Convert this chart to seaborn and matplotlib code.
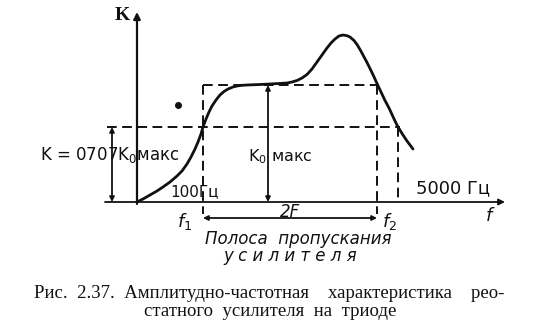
import matplotlib
matplotlib.use("Agg")
import matplotlib.pyplot as plt
import seaborn as sns
import pandas as pd

# ---- data (frequency axis in arbitrary units, gain K in arbitrary units) ----
curve_f = [0, 6, 13, 20, 26, 33, 40, 45, 50, 54, 58, 61, 64, 66, 69, 72, 75, 79, 83,
           87, 91, 96, 100, 105, 110, 123, 133, 142, 150, 155, 160, 165, 170, 175,
           180, 185, 190, 194, 198, 202, 206, 210, 213, 217, 220, 223, 226, 230,
           233, 237, 240, 244, 248, 252, 255, 258, 261, 266, 270, 273, 276]
curve_k = [0, 3, 7, 11, 15, 20, 26, 31, 38, 45, 53, 60, 68, 75, 83, 90, 96, 102, 107,
           110.5, 113, 115, 116, 116.7, 117, 117.5, 118, 118.5, 119, 120, 121.5, 124, 127.5, 133,
           140, 147, 154, 159, 163, 166, 167, 166.3, 165, 161.5, 157.5, 152.5, 147, 139.5,
           133.5, 125.2, 118.5, 110, 101.5, 94, 87.5, 81, 75, 67, 61, 57, 53]
f1 = 66          # 100 Гц
f2 = 240         # upper band edge
f_5000 = 261     # 5000 Гц
k0max = 117      # K0 макс
k_707 = 75       # 0.707 K0 макс
dot = (41, 97)

sns.set_theme(style="white")
plt.rcParams['font.family'] = ['DejaVu Sans']

fig = plt.figure(figsize=(5.35, 3.32), dpi=100)
ax = fig.add_axes([0, 0, 1, 1])
ax.set_xlim(-137, 398)
ax.set_ylim(-130, 202)
ax.axis('off')

ink = '#111111'
dash = (0, (5, 2.8))

# axes with arrows
ax.annotate('', xy=(0, 190), xytext=(0, -2),
            arrowprops=dict(arrowstyle='-|>', color=ink, lw=1.6, mutation_scale=10, shrinkA=0, shrinkB=0))
ax.annotate('', xy=(368, 0), xytext=(-32, 0),
            arrowprops=dict(arrowstyle='-|>', color=ink, lw=1.3, mutation_scale=9, shrinkA=0, shrinkB=0))

# curve
df = pd.DataFrame({'f': curve_f, 'K': curve_k})
sns.lineplot(data=df, x='f', y='K', ax=ax, color=ink, lw=2.0, sort=False, estimator=None,
             solid_joinstyle='round', solid_capstyle='round')

# dashed construction lines
ax.plot([f1, f2], [k0max, k0max], color=ink, lw=1.4, ls=dash)
ax.plot([-30, f_5000 + 2], [k_707, k_707], color=ink, lw=1.4, ls=dash)
ax.plot([f1, f1], [k0max, -12], color=ink, lw=1.4, ls=dash)
ax.plot([f2, f2], [k0max, -12], color=ink, lw=1.4, ls=dash)
ax.plot([f_5000, f_5000], [k_707, 0], color=ink, lw=1.4, ls=dash)

# dimension arrows
arr = dict(arrowstyle='<|-|>', color=ink, lw=1.3, mutation_scale=7, shrinkA=0, shrinkB=0)
ax.annotate('', xy=(-25, k_707), xytext=(-25, 0), arrowprops=arr)
ax.annotate('', xy=(131, k0max), xytext=(131, 0), arrowprops=arr)
ax.annotate('', xy=(f1, -16), xytext=(f2, -16), arrowprops=arr)

# artifact dot
ax.plot([dot[0]], [dot[1]], 'o', color=ink, ms=4)

# labels
fs = 12
ax.text(-15, 187, 'K', fontsize=14, ha='center', va='center', color=ink,
        family=['Liberation Serif'], weight='bold')
ax.text(-27, 47, 'K = 0707K$_0$макс', fontsize=fs, ha='center', va='center', color=ink)
ax.text(143, 45, 'K$_0$ макс', fontsize=11.5, ha='center', va='center', color=ink)
ax.text(58, 10, '100Гц', fontsize=11, ha='center', va='center', color=ink)
ax.text(316, 14, '5000 Гц', fontsize=13, ha='center', va='center', color=ink)
ax.text(153, -10, '2F', fontsize=fs, ha='center', va='center', color=ink, style='italic')
ax.text(48, -19, '$f_1$', fontsize=fs + 1, ha='center', va='center', color=ink)
ax.text(253, -19, '$f_2$', fontsize=fs + 1, ha='center', va='center', color=ink)
ax.text(353, -14, '$f$', fontsize=fs + 1, ha='center', va='center', color=ink)
ax.text(161, -37, 'Полоса  пропускания', fontsize=fs, ha='center', va='center',
        color=ink, style='italic')
ax.text(153, -54, 'у с и л и т е л я', fontsize=fs, ha='center', va='center',
        color=ink, style='italic')

cap = dict(fontsize=13.5, ha='center', va='center', color=ink,
           family=['Liberation Serif', 'DejaVu Serif'])
ax.text(132, -91, 'Рис.  2.37.  Амплитудно-частотная    характеристика    рео-', **cap)
ax.text(133, -110, 'статного  усилителя  на  триоде', **cap)

fig.savefig('out.png', dpi=100)
